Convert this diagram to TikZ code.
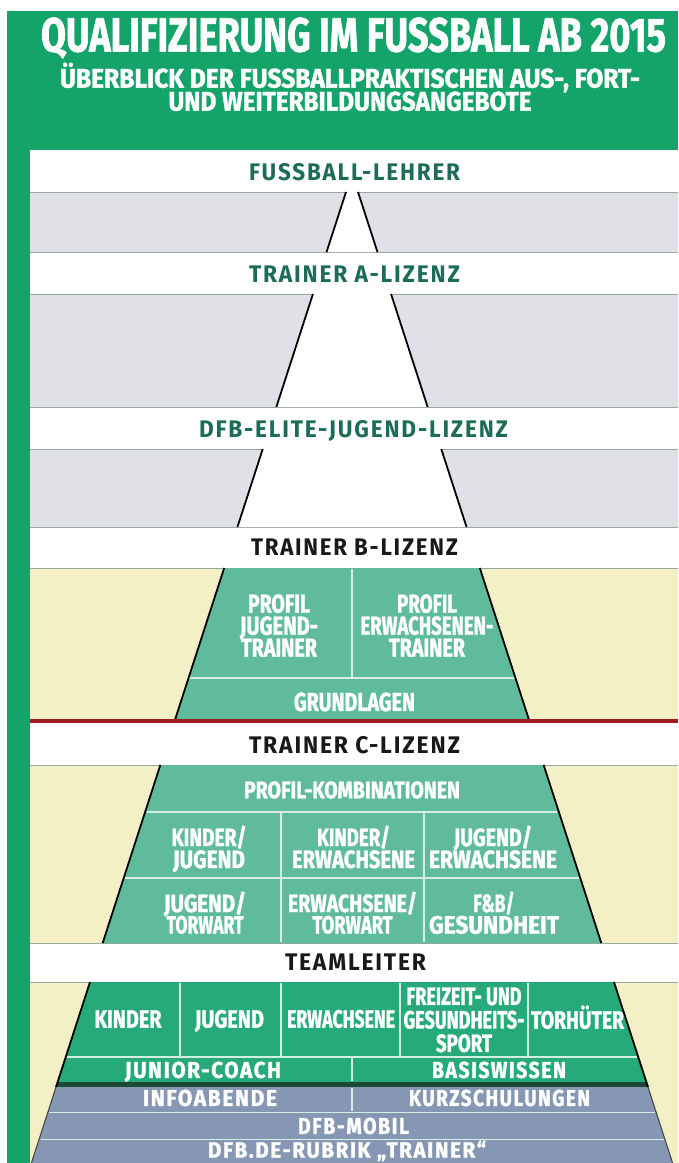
\documentclass[tikz,border=0pt]{standalone}
\usepackage{fontspec}
\usepackage{graphicx}
\setmainfont{Fira Sans}
\newfontfamily\cf{Fira Sans}[FakeStretch=0.7,FakeBold=1.2]
\newfontfamily\bandfont{Fira Sans}[FakeStretch=0.75,LetterSpace=6]
\newfontfamily\rowfont{Fira Sans}[FakeStretch=0.75,LetterSpace=6,FakeBold=1.2]
\definecolor{framegreen}{RGB}{20,163,104}
\definecolor{graybd}{RGB}{223,225,231}
\definecolor{sepln}{RGB}{150,168,160}
\definecolor{bandteal}{RGB}{28,108,88}
\definecolor{yel}{RGB}{243,240,198}
\definecolor{bgreen}{RGB}{96,187,156}
\definecolor{tgreen}{RGB}{38,170,122}
\definecolor{celln}{RGB}{212,238,228}
\definecolor{bluegray}{RGB}{133,151,178}
\definecolor{darkg}{RGB}{28,72,56}
\definecolor{redl}{RGB}{158,28,34}
\newsavebox\tbox
\newcommand\fitw[2]{\sbox\tbox{#2}\pgfmathsetmacro\fitsc{#1/\the\wd\tbox}\scalebox{\fitsc}[1]{\usebox\tbox}}
\newcommand\lab[7][]{\node[lbl,#1] (#2) at (#3,{#4+0.3445*#5}) {\fontsize{#5}{#5}\selectfont\fitw{#6}{#7}};}
\newcommand\mlab[7][]{\node[lbl,#1,anchor=north,align=center,font={\cf\bfseries\fontsize{#5}{#6}\selectfont\lineskiplimit=-50pt}] (#2) at (#3,{#4-0.3445*#5}) {#7};}
\newcommand\trap[3]{\fill[#3] ({352-hw(#1)},#1) -- ({352+hw(#1)},#1) -- ({352+hw(#2)},#2) -- ({352-hw(#2)},#2) -- cycle;}
\newcommand\edges[3]{\draw[#3] ({352-hw(#1)},#1) -- ({352-hw(#2)},#2) ({352+hw(#1)},#1) -- ({352+hw(#2)},#2);}
\newcommand\hsep[2]{\draw[#2] ({352-hw(#1)+1.5},#1) -- ({352+hw(#1)-1.5},#1);}
\tikzset{
  lbl/.style={inner sep=0pt, anchor=base},
  titl/.style={text=white, font=\cf\bfseries},
  boxt/.style={text=white, font=\cf\bfseries},
  bandt/.style={text=bandteal, font=\bandfont\bfseries},
  bandk/.style={text=black!90, font=\bandfont\bfseries},
  rowt/.style={text=white, font=\rowfont\bfseries},
  edge/.style={black, line width=1.8pt},
  thinedge/.style={black!75, line width=1.0pt},
  cellsep/.style={celln, line width=1.8pt},
  bandsep/.style={sepln, line width=0.8pt}
}
\begin{document}
\begin{tikzpicture}[x=1pt,y=-1pt,declare function={hw(\t)=6+0.324*(\t-192);}]
\useasboundingbox (0,0) rectangle (678,1163);
\fill[white] (0,0) rectangle (678,1163);
\fill[framegreen] (7,11) rectangle (678,1163);
% bands
\fill[white] (30,150) rectangle (678,192);
\fill[graybd] (30,192) rectangle (678,252);
\fill[white] (30,252) rectangle (678,294);
\fill[graybd] (30,294) rectangle (678,407);
\fill[white] (30,407) rectangle (678,449);
\fill[graybd] (30,449) rectangle (678,527);
\fill[white] (30,527) rectangle (678,568);
\fill[yel] (30,568) rectangle (678,720);
\fill[white] (30,720) rectangle (678,765);
\fill[yel] (30,765) rectangle (678,943);
\fill[white] (30,943) rectangle (678,982);
\fill[yel] (30,982) rectangle (678,1163);
\foreach \yy in {192,252,294,407,449,527,568,765,943,982} \draw[bandsep] (30,\yy) -- (678,\yy);
% upper pyramid (white inside grey bands)
\trap{192}{252}{white}\edges{192}{252}{edge}
\trap{294}{407}{white}\edges{294}{407}{edge}
\trap{449}{527}{white}\edges{449}{527}{edge}
% B block
\trap{568}{720}{bgreen}
\draw[cellsep] (352,569) -- (352,677);
\hsep{678}{cellsep}
\edges{568}{720}{edge}
% red line
\fill[redl] (30,718.5) rectangle (678,723);
% C block
\trap{765}{943}{bgreen}
\hsep{812}{cellsep}
\hsep{878}{cellsep}
\draw[cellsep] (281,813) -- (281,942) (424,813) -- (424,942);
\edges{765}{943}{edge}
% Teamleiter block
\trap{982}{1082}{tgreen}
\trap{1082}{1087}{darkg}
\trap{1087}{1163}{bluegray}
\hsep{1057}{cellsep}
\hsep{1112.5}{celln, line width=1.6pt}
\hsep{1139.5}{celln, line width=1.6pt}
\draw[cellsep] (180,983) -- (180,1056) (281,983) -- (281,1056) (400,983) -- (400,1056) (528,983) -- (528,1056);
\draw[cellsep] (352,1058) -- (352,1081);
\draw[celln, line width=1.2pt] (352,1088) -- (352,1111);
\edges{982}{1087}{edge}
\edges{1087}{1163}{thinedge}
% title
\lab[titl]{title}{353.5}{35}{48}{625}{QUALIFIZIERUNG IM FUSSBALL AB 2015}
\node[lbl,titl,anchor=south,align=center,font={\cf\bfseries\fontsize{27}{23}\selectfont\lineskiplimit=-50pt}] (sub) at (350,111.3)
  {\fitw{580}{ÜBERBLICK DER FUSSBALLPRAKTISCHEN AUS-, FORT-}\\\fitw{363}{UND WEITERBILDUNGSANGEBOTE}};
% band labels
\lab[bandt]{fl}{354.5}{172}{24}{211}{FUSSBALL-LEHRER}
\lab[bandt]{ta}{354.5}{274}{24}{211}{TRAINER A-LIZENZ}
\lab[bandt]{de}{353.5}{429}{24}{309}{DFB-ELITE-JUGEND-LIZENZ}
\lab[bandk]{tb}{354.5}{547}{24}{207}{TRAINER B-LIZENZ}
\lab[bandk]{tc}{354.5}{745}{24}{211}{TRAINER C-LIZENZ}
\lab[bandk]{tl}{355.5}{962}{24}{141}{TEAMLEITER}
% B block labels
\mlab[boxt]{pj}{279}{603}{26}{22}{\fitw{62}{PROFIL}\\\fitw{78}{JUGEND-}\\\fitw{76}{TRAINER}}
\mlab[boxt]{pe}{427}{603}{26}{22}{\fitw{60}{PROFIL}\\\fitw{133}{ERWACHSENEN-}\\\fitw{76}{TRAINER}}
\lab[boxt]{gr}{354.5}{702}{26}{121}{GRUNDLAGEN}
% C block labels
\lab[boxt]{pk}{352}{790}{24}{216}{PROFIL-KOMBINATIONEN}
\mlab[boxt]{kj}{209}{834}{25}{22}{\fitw{75}{KINDER/}\\\fitw{72}{JUGEND}}
\mlab[boxt]{ke}{353.5}{834}{25}{22}{\fitw{73}{KINDER/}\\\fitw{123}{ERWACHSENE}}
\mlab[boxt]{je}{493}{834}{25}{22}{\fitw{78}{JUGEND/}\\\fitw{128}{ERWACHSENE}}
\mlab[boxt]{jt}{205}{900}{25}{21.5}{\fitw{82}{JUGEND/}\\\fitw{77}{TORWART}}
\mlab[boxt]{et}{352.5}{900}{25}{21.5}{\fitw{129}{ERWACHSENE/}\\\fitw{80}{TORWART}}
\mlab[boxt]{fg}{494}{900}{25}{21.5}{\fitw{41}{F\&B/}\\\fitw{130}{GESUNDHEIT}}
% Teamleiter labels
\lab[boxt]{ki}{128}{1019}{25}{67}{KINDER}
\lab[boxt]{ju}{229.5}{1019}{25}{69}{JUGEND}
\lab[boxt]{er}{341}{1019}{25}{108}{ERWACHSENE}
\mlab[boxt]{fz}{464}{996}{25}{23.5}{\fitw{115}{FREIZEIT- UND}\\\fitw{121}{GESUNDHEITS-}\\\fitw{56}{SPORT}}
\lab[boxt]{to}{577.5}{1020}{25}{93}{TORHÜTER}
\lab[rowt]{jc}{203}{1070}{23}{156}{JUNIOR-COACH}
\lab[rowt]{bw}{499}{1070}{23}{134}{BASISWISSEN}
\lab[rowt]{ia}{210}{1098}{23}{134}{INFOABENDE}
\lab[rowt]{ks}{499.5}{1098}{23}{181}{KURZSCHULUNGEN}
\lab[rowt]{dm}{353.5}{1126}{23}{111}{DFB-MOBIL}
\lab[rowt]{dr}{347}{1150}{22}{278}{DFB.DE-RUBRIK „TRAINER“}
\end{tikzpicture}
\end{document}
